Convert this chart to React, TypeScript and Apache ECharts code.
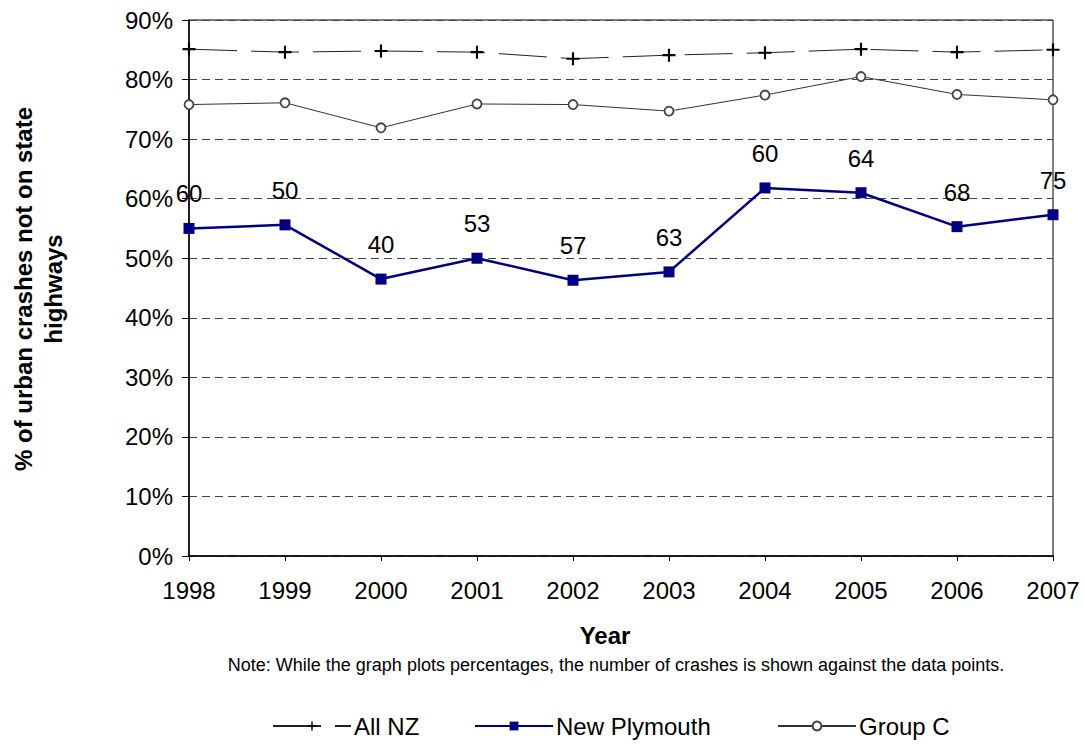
import React, { useEffect, useRef } from "react";
import * as echarts from "echarts";

const years = ["1998", "1999", "2000", "2001", "2002", "2003", "2004", "2005", "2006", "2007"];
const allNZ = [85.1, 84.6, 84.8, 84.6, 83.5, 84.1, 84.5, 85.1, 84.6, 85.0];
const newPlymouth = [55.0, 55.6, 46.5, 50.0, 46.3, 47.7, 61.8, 61.0, 55.3, 57.3];
const groupC = [75.8, 76.1, 71.9, 75.9, 75.8, 74.7, 77.4, 80.5, 77.5, 76.6];
const crashCounts = [60, 50, 40, 53, 57, 63, 60, 64, 68, 75];
const seriesNames = ["All NZ", "New Plymouth", "Group C"];

const FONT = "Liberation Sans, Arial, sans-serif";
const PLUS = "path://M5,0H7V5H12V7H7V12H5V7H0V5H5Z";

export default function App() {
  const ref = useRef<HTMLDivElement>(null);
  useEffect(() => {
    document.body.style.margin = "0";
    const chart = echarts.init(ref.current!, null, { renderer: "svg" });
    const legendBase = {
      top: 714,
      itemWidth: 78,
      itemHeight: 11,
      itemGap: 0,
      textStyle: { fontSize: 24, color: "#000", fontFamily: FONT, padding: [0, 0, 0, -2] },
      padding: 0,
    };
    chart.setOption({
      animation: false,
      backgroundColor: "#fff",
      textStyle: { fontFamily: FONT },
      grid: {
        left: 189,
        top: 20,
        right: 31,
        bottom: 188,
        show: true,
        borderColor: "#000",
        borderWidth: 1,
      },
      xAxis: {
        type: "category",
        data: years,
        boundaryGap: false,
        axisLine: { lineStyle: { color: "#000", width: 1.5 } },
        axisTick: { show: true, alignWithLabel: true, length: 5, lineStyle: { color: "#000" } },
        axisLabel: { color: "#000", fontSize: 24, fontFamily: FONT, margin: 22 },
        splitLine: { show: false },
      },
      yAxis: {
        type: "value",
        min: 0,
        max: 90,
        interval: 10,
        axisLine: { show: true, lineStyle: { color: "#000", width: 1.5 } },
        axisTick: { show: true, length: 7, lineStyle: { color: "#000" } },
        axisLabel: { color: "#000", fontSize: 24, fontFamily: FONT, margin: 16, formatter: "{value}%" },
        splitLine: { show: true, lineStyle: { color: "#444", type: [8, 5], width: 1 } },
      },
      legend: [
        { ...legendBase, left: 272, data: [seriesNames[0]] },
        { ...legendBase, left: 474, data: [seriesNames[1]] },
        { ...legendBase, left: 777, data: [seriesNames[2]] },
      ],
      series: [
        {
          name: seriesNames[0],
          type: "line",
          data: allNZ,
          symbol: PLUS,
          symbolSize: 13,
          itemStyle: { color: "#000" },
          lineStyle: { color: "#222", width: 1, type: [48, 14] },
          z: 3,
        },
        {
          name: seriesNames[1],
          type: "line",
          data: newPlymouth,
          symbol: "rect",
          symbolSize: 11,
          itemStyle: { color: "#000080" },
          lineStyle: { color: "#000080", width: 2.5 },
          label: {
            show: true,
            position: "top",
            distance: 17,
            fontSize: 24,
            color: "#000",
            fontFamily: FONT,
            formatter: (p: any) => String(crashCounts[p.dataIndex]),
          },
          z: 4,
        },
        {
          name: seriesNames[2],
          type: "line",
          data: groupC,
          symbol: "circle",
          symbolSize: 9,
          itemStyle: { color: "#fff", borderColor: "#444", borderWidth: 1.8 },
          lineStyle: { color: "#333", width: 1 },
          z: 3,
        },
      ],
      graphic: [
        {
          type: "text",
          x: 38,
          y: 289,
          rotation: Math.PI / 2,
          style: {
            text: "% of urban crashes not on state\nhighways",
            font: `bold 24px ${FONT}`,
            fill: "#000",
            align: "center",
            verticalAlign: "middle",
            lineHeight: 30,
          },
        },
        {
          type: "text",
          x: 605,
          y: 635,
          style: {
            text: "Year",
            font: `bold 24px ${FONT}`,
            fill: "#000",
            align: "center",
            verticalAlign: "middle",
          },
        },
        {
          type: "text",
          x: 616,
          y: 665,
          style: {
            text: "Note: While the graph plots percentages, the number of crashes is shown against the data points.",
            font: `18px ${FONT}`,
            fill: "#000",
            align: "center",
            verticalAlign: "middle",
          },
        },
      ],
    });
    return () => chart.dispose();
  }, []);
  return <div ref={ref} style={{ width: 1084, height: 744 }} />;
}
